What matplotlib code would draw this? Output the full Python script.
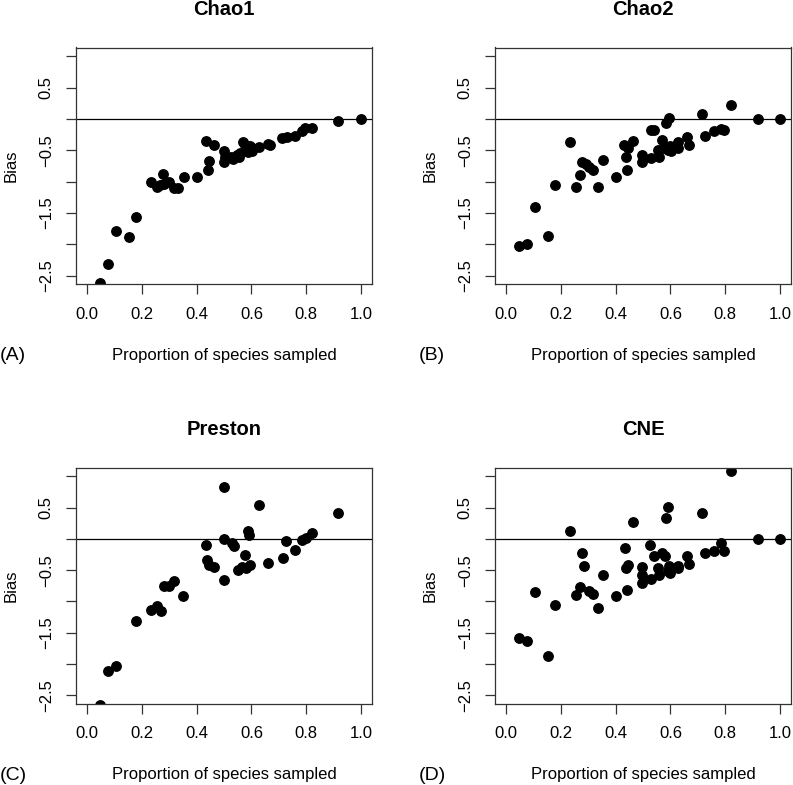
import numpy as np
import matplotlib
matplotlib.use("Agg")
import matplotlib.pyplot as plt

plt.rcParams['font.family'] = ['Liberation Sans', 'DejaVu Sans']

# Chao1
chao1_x = [0.049, 0.077, 0.107, 0.154, 0.180, 0.235, 0.255, 0.267, 0.278, 0.282,
           0.300, 0.318, 0.332, 0.354, 0.400, 0.433, 0.440, 0.446, 0.465, 0.499,
           0.499, 0.504, 0.525, 0.532, 0.547, 0.556, 0.560, 0.569, 0.577, 0.583,
           0.589, 0.595, 0.601, 0.626, 0.659, 0.668, 0.711, 0.729, 0.759, 0.784,
           0.796, 0.820, 0.917, 1.000]
chao1_bias = [-2.62, -2.31, -1.79, -1.88, -1.56, -1.01, -1.09, -1.06, -0.88, -1.04,
              -1.00, -1.10, -1.10, -0.92, -0.92, -0.35, -0.81, -0.67, -0.42, -0.52,
              -0.69, -0.61, -0.60, -0.64, -0.57, -0.60, -0.54, -0.37, -0.41, -0.46,
              -0.53, -0.43, -0.52, -0.45, -0.40, -0.42, -0.30, -0.29, -0.27, -0.20,
              -0.14, -0.15, -0.04, 0.00]

# Chao2
chao2_x = [0.049, 0.077, 0.107, 0.154, 0.180, 0.235, 0.255, 0.270, 0.277, 0.292,
           0.304, 0.319, 0.334, 0.354, 0.401, 0.432, 0.439, 0.445, 0.441, 0.464,
           0.498, 0.498, 0.528, 0.540, 0.531, 0.553, 0.557, 0.569, 0.578, 0.584,
           0.590, 0.596, 0.598, 0.602, 0.626, 0.626, 0.660, 0.669, 0.715, 0.727,
           0.760, 0.784, 0.796, 0.821, 0.918, 1.000]
chao2_bias = [-2.03, -1.99, -1.41, -1.87, -1.05, -0.37, -1.08, -0.89, -0.68, -0.72,
              -0.76, -0.81, -1.09, -0.65, -0.92, -0.42, -0.61, -0.47, -0.81, -0.36,
              -0.57, -0.69, -0.18, -0.18, -0.63, -0.49, -0.60, -0.33, -0.46, -0.06,
              -0.49, 0.01, -0.44, -0.51, -0.37, -0.46, -0.29, -0.41, 0.08, -0.27,
              -0.20, -0.16, -0.17, 0.23, 0.00, 0.00]

# Preston
preston_x = [0.049, 0.075, 0.107, 0.179, 0.233, 0.255, 0.270, 0.282, 0.301, 0.318,
             0.352, 0.433, 0.439, 0.445, 0.464, 0.499, 0.499, 0.499, 0.530, 0.538,
             0.550, 0.565, 0.575, 0.581, 0.587, 0.593, 0.594, 0.626, 0.659, 0.714,
             0.728, 0.759, 0.784, 0.798, 0.820, 0.917]
preston_bias = [-2.66, -2.11, -2.03, -1.31, -1.14, -1.07, -1.16, -0.75, -0.75, -0.68,
                -0.91, -0.09, -0.34, -0.41, -0.45, 0.83, 0.00, -0.65, -0.07, -0.12,
                -0.50, -0.45, -0.25, -0.47, 0.13, 0.07, -0.42, 0.54, -0.38, -0.31,
                -0.03, -0.18, -0.02, 0.01, 0.10, 0.42]

# CNE
cne_x = [0.049, 0.077, 0.107, 0.154, 0.180, 0.235, 0.255, 0.270, 0.277, 0.283,
         0.304, 0.319, 0.334, 0.354, 0.401, 0.434, 0.439, 0.445, 0.441, 0.464,
         0.498, 0.498, 0.498, 0.526, 0.529, 0.540, 0.553, 0.557, 0.569, 0.582,
         0.584, 0.590, 0.593, 0.596, 0.598, 0.626, 0.626, 0.660, 0.669, 0.715,
         0.727, 0.760, 0.784, 0.796, 0.821, 0.918, 1.000]
cne_bias = [-1.58, -1.64, -0.85, -1.88, -1.06, 0.13, -0.89, -0.77, -0.23, -0.43,
            -0.83, -0.88, -1.10, -0.58, -0.92, -0.15, -0.46, -0.42, -0.82, 0.27,
            -0.45, -0.58, -0.70, -0.10, -0.64, -0.28, -0.47, -0.58, -0.23, -0.28,
            0.33, -0.52, 0.51, -0.44, -0.54, -0.43, -0.47, -0.27, -0.40, 0.41,
            -0.23, -0.19, -0.07, -0.19, 1.08, 0.00, 0.00]

titles = ['Chao1', 'Chao2', 'Preston', 'CNE']
tags = ['(A)', '(B)', '(C)', '(D)']
xticks = [0.0, 0.2, 0.4, 0.6, 0.8, 1.0]
yticks = [-2.5, -2.0, -1.5, -1.0, -0.5, 0.0, 0.5, 1.0]
ytick_labels = ['\u22122.5', '', '\u22121.5', '', '\u22120.5', '', '0.5', '']

W, H = 793, 785
fig = plt.figure(figsize=(W / 100, H / 100), dpi=100)

# panel boxes in pixels: left, right, top, bottom
boxes = [(76, 372, 47.5, 284.3), (495, 791, 47.5, 284.3),
         (76, 372, 467.7, 704), (495, 791, 467.7, 704)]
data = [(chao1_x, chao1_bias), (chao2_x, chao2_bias),
        (preston_x, preston_bias), (cne_x, cne_bias)]

for (l, r, t, b), (xs, ys), title, tag in zip(boxes, data, titles, tags):
    ax = fig.add_axes([l / W, 1 - b / H, (r - l) / W, (b - t) / H])
    ax.plot(xs, ys, 'o', color='black', markersize=6.8, clip_on=True)
    ax.axhline(0, color='black', lw=0.9)
    ax.set_xlim(-0.04, 1.04)
    ax.set_ylim(-2.64, 1.14)
    ax.set_xticks(xticks)
    ax.set_xticklabels(['%.1f' % v for v in xticks])
    ax.set_yticks(yticks)
    ax.set_yticklabels(ytick_labels)
    for s in ax.spines.values():
        s.set_color('#333333')
        s.set_linewidth(0.9)
    ax.tick_params(direction='out', length=7, width=0.9, color='#333333',
                   labelsize=12, pad=9)
    ax.tick_params(axis='y', labelrotation=90, pad=9)
    for lab in ax.get_yticklabels():
        lab.set_va('center')
    cx = (l + r) / 2
    fig.text(cx / W, 1 - (t - 38) / H, title, ha='center', va='center',
             fontsize=14.5, fontweight='bold')
    fig.text(cx / W, 1 - (b + 71) / H, 'Proportion of species sampled',
             ha='center', va='center', fontsize=12)
    fig.text((l - 76) / W, 1 - (b + 71) / H, tag, ha='left', va='center',
             fontsize=14)
    fig.text((l - 65) / W, 1 - ((t + b) / 2) / H, 'Bias', ha='center',
             va='center', rotation=90, fontsize=12)

fig.savefig('out.png', dpi=100)
